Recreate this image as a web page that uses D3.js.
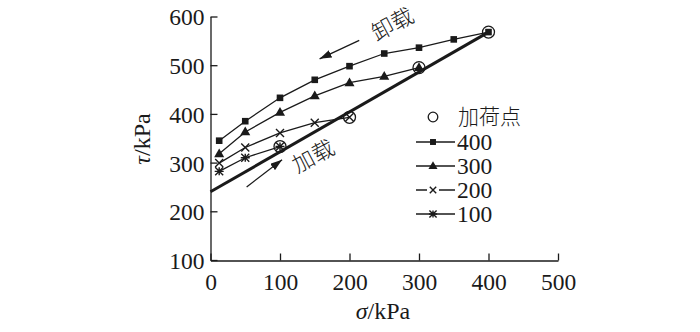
<!DOCTYPE html>
<html><head><meta charset="utf-8">
<script src="https://cdn.jsdelivr.net/npm/d3@7"></script>
<style>body{margin:0;background:#fff}</style>
</head><body><svg id="c" width="700" height="332"></svg>
<script>
const xTicks=[0,100,200,300,400,500];
const yTicks=[100,200,300,400,500,600];
const s400=[12.5,50,100,150,200,250,300,350,400], t400=[345,385,433,470,498,524,536,553,568];
const s300=[12.5,50,100,150,200,250,300], t300=[318,363,403,437,464,477,495];
const s200=[12.5,50,100,150,200], t200=[299,331,361,382,393];
const s100=[12.5,50,100], t100=[282,310,333];
const loadSigma=[100,200,300,400], loadTau=[333,393,495,568];
const envSigma=[0,400], envTau=[240,568];
const seriesNames=["400","300","200","100"];
const legendLoad="加荷点";
const arrows=[{from:[214,551],to:[157,513],label:"卸载",lp:[262,584]},{from:[52,250],to:[103,306],label:"加载",lp:[148,313]}];

const SERIF="'Liberation Serif','Times New Roman',serif";
const CJK="'Liberation Serif','Noto Sans CJK SC',serif";
const svg=d3.select("#c");
const x=d3.scaleLinear().domain([0,500]).range([210.5,558]);
const y=d3.scaleLinear().domain([100,600]).range([260,16.5]);
const ink="#1a1a1a";

const xa=svg.append("g").attr("transform","translate(0,260.5)").call(d3.axisBottom(x).tickValues(xTicks).tickSizeInner(-7).tickSizeOuter(0).tickPadding(12));
const ya=svg.append("g").attr("transform","translate(210.5,0)").call(d3.axisLeft(y).tickValues(yTicks).tickSizeInner(-7).tickSizeOuter(0).tickPadding(6));
[xa,ya].forEach(a=>{a.attr("font-family",null).attr("font-size",null);a.selectAll("path,line").attr("stroke",ink).attr("stroke-width",1.3);a.selectAll("text").style("font-family",SERIF).style("font-size","23.5px").attr("fill",ink);});
xa.selectAll("text").attr("dy","0.74em");
ya.selectAll("text").attr("dy","0.36em");

svg.append("text").attr("x",383).attr("y",319).attr("text-anchor","middle").style("font-family",SERIF).style("font-size","24px").attr("fill",ink)
 .html('<tspan font-style="italic">σ</tspan>/kPa');
svg.append("text").attr("transform","translate(150,139) rotate(-90)").attr("text-anchor","middle").style("font-family",SERIF).style("font-size","24px").attr("fill",ink)
 .html('<tspan font-style="italic">τ</tspan>/kPa');

const line=d3.line().x(d=>x(d[0])).y(d=>y(d[1]));
svg.append("path").attr("d",line(envSigma.map((s,i)=>[s,envTau[i]]))).attr("stroke",ink).attr("stroke-width",3).attr("fill","none");

const series=[[s400,t400,"square"],[s300,t300,"triangle"],[s200,t200,"x"],[s100,t100,"star"]];
function marker(g,type,cx,cy,k=1){
  if(type==="square"){const h=3.3*k;g.append("rect").attr("x",cx-h).attr("y",cy-h).attr("width",2*h).attr("height",2*h).attr("fill",ink);}
  else if(type==="triangle") g.append("path").attr("d",d3.symbol(d3.symbolTriangle,44*k*k)()).attr("transform",`translate(${cx},${cy+0.5})`).attr("fill",ink);
  else if(type==="x"){const r=4*k;g.append("path").attr("d",`M${cx-r},${cy-r}L${cx+r},${cy+r}M${cx-r},${cy+r}L${cx+r},${cy-r}`).attr("stroke",ink).attr("stroke-width",1.4);}
  else {const r=4*k;g.append("path").attr("d",`M${cx-r},${cy-r}L${cx+r},${cy+r}M${cx-r},${cy+r}L${cx+r},${cy-r}M${cx-r-0.5},${cy}L${cx+r+0.5},${cy}M${cx},${cy-r}L${cx},${cy+r}`).attr("stroke",ink).attr("stroke-width",1.4);}
}
series.forEach(([s,t,type])=>{
  const pts=s.map((v,i)=>[v,t[i]]);
  svg.append("path").attr("d",line(pts)).attr("stroke",ink).attr("stroke-width",1.3).attr("fill","none");
  const g=svg.append("g");
  pts.forEach(p=>marker(g,type,x(p[0]),y(p[1])));
});
loadSigma.forEach((s,i)=>svg.append("circle").attr("cx",x(s)).attr("cy",y(loadTau[i])).attr("r",6).attr("fill","none").attr("stroke",ink).attr("stroke-width",1.3));

svg.append("defs").append("marker").attr("id","ah").attr("viewBox","0 0 12 8").attr("refX",12).attr("refY",4)
 .attr("markerWidth",12).attr("markerHeight",8).attr("markerUnits","userSpaceOnUse").attr("orient","auto")
 .append("path").attr("d","M0,0L12,4L0,8Z").attr("fill",ink);
arrows.forEach(a=>{
  svg.append("line").attr("x1",x(a.from[0])).attr("y1",y(a.from[1])).attr("x2",x(a.to[0])).attr("y2",y(a.to[1]))
   .attr("stroke",ink).attr("stroke-width",1.3).attr("marker-end","url(#ah)");
  svg.append("text").attr("transform",`translate(${x(a.lp[0])},${y(a.lp[1])}) rotate(-28)`).attr("text-anchor","middle").attr("dy","0.35em")
   .style("font-size","22px").style("font-family",CJK).style("font-weight","300").attr("fill",ink).text(a.label);
});

const ly=[117,142,166,190,214];
svg.append("circle").attr("cx",433).attr("cy",ly[0]).attr("r",4.8).attr("fill","none").attr("stroke",ink).attr("stroke-width",1.3);
svg.append("text").attr("x",458).attr("y",ly[0]).attr("dy","0.35em").style("font-size","21px").style("font-family",CJK).style("font-weight","300").attr("fill",ink).text(legendLoad);
const types=["square","triangle","x","star"];
seriesNames.forEach((n,i)=>{
  const yy=ly[i+1];
  svg.append("line").attr("x1",416).attr("x2",455).attr("y1",yy).attr("y2",yy).attr("stroke",ink).attr("stroke-width",1.3);
  const g=svg.append("g");
  if(types[i]==="x"){g.append("rect").attr("x",427).attr("y",yy-5).attr("width",12).attr("height",10).attr("fill","#fff");}
  marker(g,types[i],433,yy,types[i]==="x"?0.8:0.9);
  svg.append("text").attr("x",457).attr("y",yy).attr("dy","0.35em").style("font-size","23.5px").style("font-family",SERIF).attr("fill",ink).text(n);
});
</script></body></html>
